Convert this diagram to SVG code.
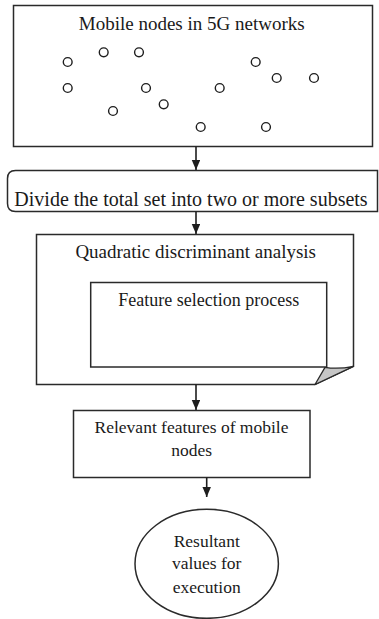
<svg xmlns="http://www.w3.org/2000/svg" width="379" height="619" viewBox="0 0 379 619">
  <defs>
    <marker id="arrow" markerWidth="10" markerHeight="9" refX="10" refY="4.25" orient="auto" markerUnits="userSpaceOnUse">
      <path d="M0,0 L10,4.25 L0,8.5 Z" fill="#1e1e1e"/>
    </marker>
  </defs>
  <style>
    .box { fill: #fff; stroke: #2a2a2a; stroke-width: 1.5; }
    .node { fill: #fff; stroke: #1e1e1e; stroke-width: 1.4; }
    .link { fill: none; stroke: #1e1e1e; stroke-width: 1.6; marker-end: url(#arrow); }
    text { font-family: "Liberation Serif", "Times New Roman", serif; fill: #1a1a1a; text-anchor: middle; }
  </style>
  <rect width="379" height="619" fill="#fff"/>

  <!-- network of mobile nodes -->
  <g id="mobile-nodes">
    <rect class="box" x="13.5" y="5.5" width="359" height="141"/>
    <text x="191.7" y="29.5" font-size="19">Mobile nodes in 5G networks</text>
    <g>
      <circle class="node" cx="67.7" cy="62" r="4.4"/>
      <circle class="node" cx="103.7" cy="52.3" r="4.4"/>
      <circle class="node" cx="139" cy="52.3" r="4.4"/>
      <circle class="node" cx="67.7" cy="88" r="4.4"/>
      <circle class="node" cx="146" cy="88" r="4.4"/>
      <circle class="node" cx="113" cy="111" r="4.4"/>
      <circle class="node" cx="163.7" cy="104.3" r="4.4"/>
      <circle class="node" cx="200.7" cy="127" r="4.4"/>
      <circle class="node" cx="219.7" cy="88" r="4.4"/>
      <circle class="node" cx="255.7" cy="62" r="4.4"/>
      <circle class="node" cx="276.7" cy="78" r="4.4"/>
      <circle class="node" cx="314" cy="78" r="4.4"/>
      <circle class="node" cx="266" cy="127" r="4.4"/>
    </g>
  </g>

  <!-- subset split step -->
  <g id="divide">
    <path class="box" d="M377.5,170.5 H15.5 Q7.5,170.5 7.5,178.5 V203.5 Q7.5,211.5 15.5,211.5 H377.5 Z"/>
    <text x="191" y="205.5" font-size="20">Divide the total set into two or more subsets</text>
  </g>

  <!-- QDA with folded corner -->
  <g id="qda">
    <path class="box" d="M36.5,234.5 H353.5 V366.3 L315,384.5 H36.5 Z"/>
    <path d="M315,384.5 L325,367.3 Q338,369.5 353.5,366.3 Z" fill="#c6c6c6" stroke="#2a2a2a" stroke-width="1.3" stroke-linejoin="round"/>
    <text x="195.7" y="258.3" font-size="19">Quadratic discriminant analysis</text>
  </g>

  <g id="feature-selection">
    <rect class="box" x="90.7" y="282.5" width="236" height="84.5"/>
    <text x="208.7" y="306" font-size="18">Feature selection process</text>
  </g>

  <g id="relevant-features">
    <rect class="box" x="73.5" y="410.5" width="236.5" height="67"/>
    <text x="191.5" y="432.7" font-size="17.5">Relevant features of mobile</text>
    <text x="191.7" y="456" font-size="17.5">nodes</text>
  </g>

  <g id="result">
    <ellipse class="box" cx="206.7" cy="563.8" rx="71.7" ry="54.5"/>
    <text x="206.7" y="546.7" font-size="17.5">Resultant</text>
    <text x="206.7" y="569.3" font-size="17.5">values for</text>
    <text x="206.7" y="592.7" font-size="17.5">execution</text>
  </g>

  <!-- connectors -->
  <g id="connectors">
    <line class="link" x1="196" y1="146.5" x2="196" y2="170"/>
    <line class="link" x1="196" y1="211.5" x2="196" y2="234"/>
    <line class="link" x1="196" y1="384.5" x2="196" y2="410"/>
    <line class="link" x1="206.7" y1="477.5" x2="206.7" y2="497"/>
  </g>
</svg>
